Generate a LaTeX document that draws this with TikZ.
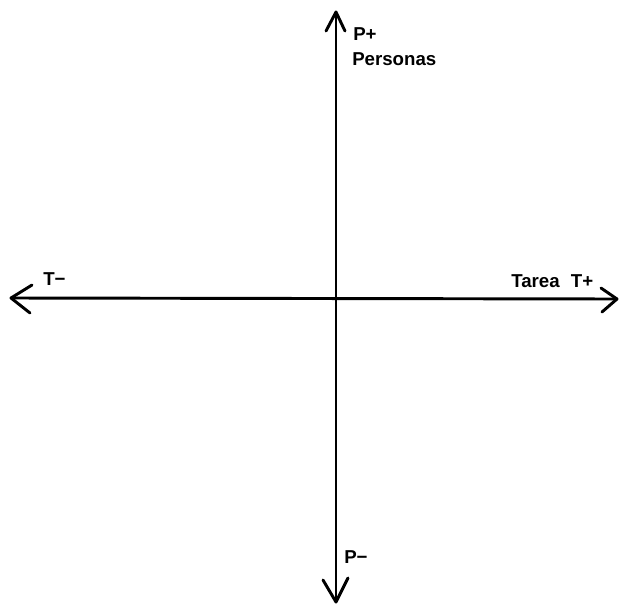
\documentclass[tikz,border=0pt]{standalone}
\usepackage{fontspec}
\setmainfont{Liberation Sans}
\tikzset{
  axis/.style={line width=2.2pt, line cap=round, line join=round},
  lbl/.style={inner sep=0pt, anchor=base west, font=\fontsize{14}{16}\selectfont\bfseries}
}
\begin{document}
\begin{tikzpicture}[x=0.75pt,y=-0.75pt]
\useasboundingbox (0,0) rectangle (619,604);
% axis end points
\coordinate (top) at (336,12);
\coordinate (bot) at (336,602);
\coordinate (lft) at (11,298);
\coordinate (rgt) at (617,299);
% axes
\draw[axis] (top) -- (bot);
\draw[axis] (lft) -- (rgt);
% arrowheads (open V)
\draw[axis] (326,31) -- (top) -- (345,31);
\draw[axis] (323,580) -- (bot) -- (348,578);
\draw[axis] (32,285) -- (lft) -- (30,313);
\draw[axis] (601,288) -- (rgt) -- (602,312);
% labels
\node[lbl] (pplus) at (353,40) {P+};
\node[lbl] (pers) at (352,65) {Personas};
\node[lbl] (tminus) at (43,285) {T\textminus};
\node[lbl] (tarea) at (511,287) {Tarea\hspace{0.6em}T+};
\node[lbl] (pminus) at (344,563) {P\textminus};
\end{tikzpicture}
\end{document}
